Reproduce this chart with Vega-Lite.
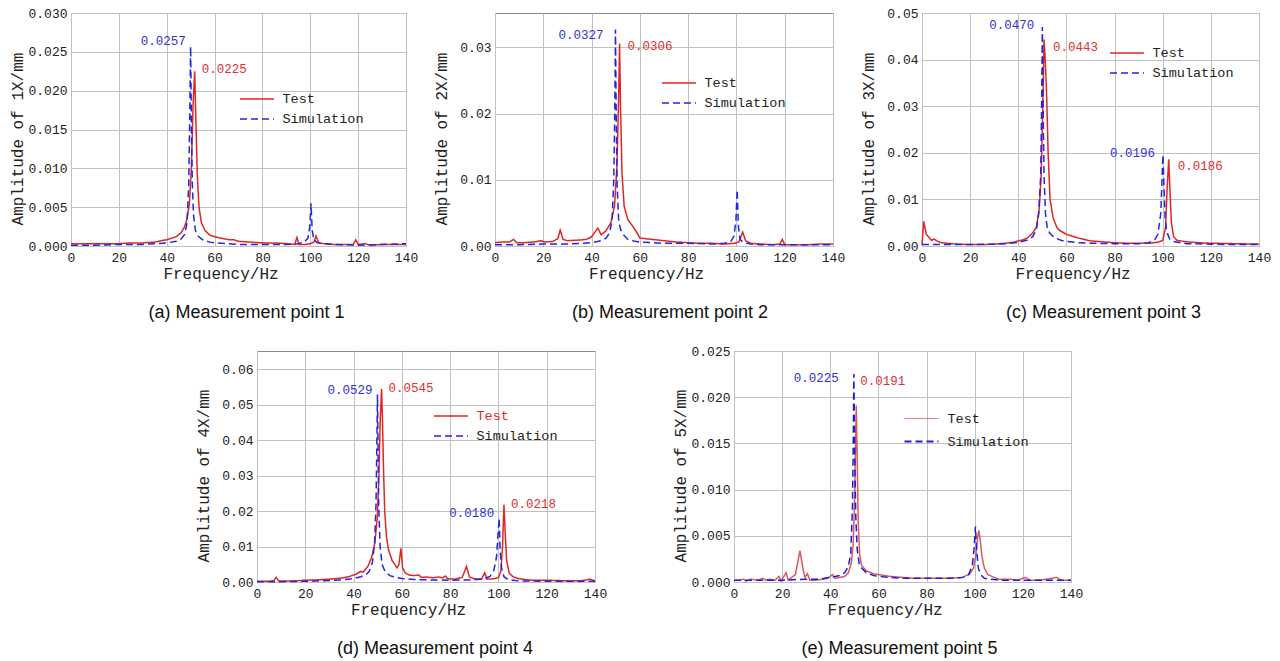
{
  "$schema": "https://vega.github.io/schema/vega-lite/v6.json",
  "padding": {"left": 8, "top": 6, "right": 5, "bottom": 5},
  "background": "white",
  "bounds": "flush",
  "spacing": 338,
  "config": {
    "font": "Liberation Mono",
    "view": {"stroke": "#8a8a8a", "strokeWidth": 1},
    "axis": {"labelFont": "Liberation Mono", "labelFontSize": 13, "labelColor": "#222222", "titleFont": "Liberation Mono", "titleFontSize": 16, "titleFontWeight": "normal", "titleColor": "#222222", "gridColor": "#c0c0c0", "gridOpacity": 1, "gridWidth": 1, "domain": false, "ticks": false, "labelPadding": 4, "labelFlush": false, "labelOverlap": false},
    "axisX": {"labelPadding": 5, "titlePadding": 1},
    "axisY": {"titleX": -54, "titleBaseline": "middle", "titleAngle": 270, "labelOverlap": false},
    "legend": {"orient": "none", "padding": 0, "symbolType": "M-2,0H2", "symbolSize": 289, "symbolStrokeWidth": 1.5, "labelOffset": 16, "labelFont": "Liberation Mono", "labelFontSize": 13.5, "labelColor": "#222222", "rowPadding": 4},
    "title": {"font": "Liberation Sans", "fontSize": 18, "fontWeight": "normal", "color": "#111111", "orient": "bottom", "anchor": "middle", "offset": 23},
    "line": {"strokeWidth": 1.5},
    "text": {"font": "Liberation Mono", "fontSize": 12.5}
  },
  "resolve": {"scale": {"color": "independent", "strokeDash": "independent", "strokeWidth": "independent"}},
  "datasets": {
    "a": [
      {"f":0,"v":0.0003,"s":"Test"},{"f":5,"v":0.0003,"s":"Test"},{"f":10,"v":0.0003,"s":"Test"},{"f":15,"v":0.0003,"s":"Test"},{"f":20,"v":0.0003,"s":"Test"},{"f":25,"v":0.0004,"s":"Test"},{"f":30,"v":0.0004,"s":"Test"},{"f":35,"v":0.0005,"s":"Test"},{"f":38,"v":0.0007,"s":"Test"},{"f":40,"v":0.0008,"s":"Test"},{"f":42,"v":0.001,"s":"Test"},{"f":44,"v":0.0012,"s":"Test"},{"f":46,"v":0.0017,"s":"Test"},{"f":47.5,"v":0.0025,"s":"Test"},{"f":48.5,"v":0.0035,"s":"Test"},{"f":49.5,"v":0.0055,"s":"Test"},{"f":50.3,"v":0.01,"s":"Test"},{"f":51,"v":0.018,"s":"Test"},{"f":51.7,"v":0.0225,"s":"Test"},{"f":52.2,"v":0.016,"s":"Test"},{"f":52.8,"v":0.009,"s":"Test"},{"f":53.5,"v":0.005,"s":"Test"},{"f":54.5,"v":0.003,"s":"Test"},{"f":56,"v":0.002,"s":"Test"},{"f":58,"v":0.0014,"s":"Test"},{"f":60,"v":0.0012,"s":"Test"},{"f":63,"v":0.001,"s":"Test"},{"f":66,"v":0.0008,"s":"Test"},{"f":68,"v":0.0008,"s":"Test"},{"f":70,"v":0.0006,"s":"Test"},{"f":75,"v":0.0005,"s":"Test"},{"f":80,"v":0.0004,"s":"Test"},{"f":85,"v":0.0004,"s":"Test"},{"f":90,"v":0.0003,"s":"Test"},{"f":93.5,"v":0.0002,"s":"Test"},{"f":94.4,"v":0.0011,"s":"Test"},{"f":95.3,"v":0.0002,"s":"Test"},{"f":98,"v":0.0002,"s":"Test"},{"f":100,"v":0.0003,"s":"Test"},{"f":101.5,"v":0.0005,"s":"Test"},{"f":102.4,"v":0.0013,"s":"Test"},{"f":103.5,"v":0.0004,"s":"Test"},{"f":106,"v":0.0003,"s":"Test"},{"f":110,"v":0.0002,"s":"Test"},{"f":115,"v":0.0002,"s":"Test"},{"f":118,"v":0.0002,"s":"Test"},{"f":119,"v":0.0008,"s":"Test"},{"f":120,"v":0.0002,"s":"Test"},{"f":123,"v":0.0003,"s":"Test"},{"f":125,"v":0.0001,"s":"Test"},{"f":130,"v":0.0002,"s":"Test"},{"f":135,"v":0.0002,"s":"Test"},{"f":140,"v":0.0002,"s":"Test"},
      {"f":0,"v":0.0001,"s":"Simulation"},{"f":10,"v":0.0001,"s":"Simulation"},{"f":20,"v":0.0002,"s":"Simulation"},{"f":30,"v":0.0002,"s":"Simulation"},{"f":35,"v":0.0003,"s":"Simulation"},{"f":40,"v":0.0004,"s":"Simulation"},{"f":44,"v":0.0006,"s":"Simulation"},{"f":46,"v":0.0009,"s":"Simulation"},{"f":47.5,"v":0.0015,"s":"Simulation"},{"f":48.5,"v":0.003,"s":"Simulation"},{"f":49.2,"v":0.008,"s":"Simulation"},{"f":49.6,"v":0.016,"s":"Simulation"},{"f":50,"v":0.0257,"s":"Simulation"},{"f":50.3,"v":0.016,"s":"Simulation"},{"f":50.7,"v":0.008,"s":"Simulation"},{"f":51.2,"v":0.004,"s":"Simulation"},{"f":52,"v":0.002,"s":"Simulation"},{"f":53,"v":0.0013,"s":"Simulation"},{"f":55,"v":0.0008,"s":"Simulation"},{"f":58,"v":0.0005,"s":"Simulation"},{"f":60,"v":0.0004,"s":"Simulation"},{"f":65,"v":0.0003,"s":"Simulation"},{"f":70,"v":0.0002,"s":"Simulation"},{"f":80,"v":0.0002,"s":"Simulation"},{"f":90,"v":0.0002,"s":"Simulation"},{"f":95,"v":0.0003,"s":"Simulation"},{"f":97.5,"v":0.0005,"s":"Simulation"},{"f":99,"v":0.001,"s":"Simulation"},{"f":99.8,"v":0.0025,"s":"Simulation"},{"f":100.3,"v":0.0055,"s":"Simulation"},{"f":100.8,"v":0.002,"s":"Simulation"},{"f":101.5,"v":0.0008,"s":"Simulation"},{"f":103,"v":0.0004,"s":"Simulation"},{"f":106,"v":0.0003,"s":"Simulation"},{"f":110,"v":0.0002,"s":"Simulation"},{"f":120,"v":0.0001,"s":"Simulation"},{"f":130,"v":0.0002,"s":"Simulation"},{"f":140,"v":0.0003,"s":"Simulation"}
    ],
    "b": [
      {"f":0,"v":0.0005,"s":"Test"},{"f":3,"v":0.0006,"s":"Test"},{"f":6,"v":0.0006,"s":"Test"},{"f":7.7,"v":0.001,"s":"Test"},{"f":9,"v":0.0005,"s":"Test"},{"f":12,"v":0.0005,"s":"Test"},{"f":16,"v":0.0006,"s":"Test"},{"f":19,"v":0.0008,"s":"Test"},{"f":21,"v":0.0006,"s":"Test"},{"f":24,"v":0.0007,"s":"Test"},{"f":26,"v":0.0011,"s":"Test"},{"f":27,"v":0.0024,"s":"Test"},{"f":28.2,"v":0.001,"s":"Test"},{"f":30,"v":0.0008,"s":"Test"},{"f":35,"v":0.0009,"s":"Test"},{"f":38,"v":0.001,"s":"Test"},{"f":40,"v":0.0014,"s":"Test"},{"f":42.6,"v":0.0027,"s":"Test"},{"f":44,"v":0.0017,"s":"Test"},{"f":46,"v":0.0023,"s":"Test"},{"f":48,"v":0.0035,"s":"Test"},{"f":49.5,"v":0.006,"s":"Test"},{"f":50.5,"v":0.012,"s":"Test"},{"f":51.2,"v":0.022,"s":"Test"},{"f":51.6,"v":0.0306,"s":"Test"},{"f":52,"v":0.021,"s":"Test"},{"f":52.6,"v":0.011,"s":"Test"},{"f":53.5,"v":0.006,"s":"Test"},{"f":55,"v":0.004,"s":"Test"},{"f":57,"v":0.003,"s":"Test"},{"f":58.5,"v":0.0022,"s":"Test"},{"f":60,"v":0.0012,"s":"Test"},{"f":65,"v":0.001,"s":"Test"},{"f":70,"v":0.0008,"s":"Test"},{"f":75,"v":0.0006,"s":"Test"},{"f":80,"v":0.0005,"s":"Test"},{"f":85,"v":0.0004,"s":"Test"},{"f":90,"v":0.0004,"s":"Test"},{"f":95,"v":0.0003,"s":"Test"},{"f":99,"v":0.0004,"s":"Test"},{"f":101,"v":0.0006,"s":"Test"},{"f":102.6,"v":0.0021,"s":"Test"},{"f":103.8,"v":0.0008,"s":"Test"},{"f":106,"v":0.0004,"s":"Test"},{"f":110,"v":0.0003,"s":"Test"},{"f":115,"v":0.0002,"s":"Test"},{"f":118,"v":0.0003,"s":"Test"},{"f":119,"v":0.001,"s":"Test"},{"f":120,"v":0.0002,"s":"Test"},{"f":125,"v":0.0002,"s":"Test"},{"f":130,"v":0.0002,"s":"Test"},{"f":135,"v":0.0003,"s":"Test"},{"f":140,"v":0.0003,"s":"Test"},
      {"f":0,"v":0.0002,"s":"Simulation"},{"f":10,"v":0.0002,"s":"Simulation"},{"f":20,"v":0.0003,"s":"Simulation"},{"f":30,"v":0.0003,"s":"Simulation"},{"f":35,"v":0.0004,"s":"Simulation"},{"f":40,"v":0.0005,"s":"Simulation"},{"f":44,"v":0.0008,"s":"Simulation"},{"f":46,"v":0.0012,"s":"Simulation"},{"f":47.5,"v":0.002,"s":"Simulation"},{"f":48.5,"v":0.004,"s":"Simulation"},{"f":49.2,"v":0.01,"s":"Simulation"},{"f":49.6,"v":0.02,"s":"Simulation"},{"f":49.9,"v":0.0327,"s":"Simulation"},{"f":50.2,"v":0.02,"s":"Simulation"},{"f":50.6,"v":0.009,"s":"Simulation"},{"f":51.2,"v":0.004,"s":"Simulation"},{"f":52,"v":0.0025,"s":"Simulation"},{"f":53,"v":0.0018,"s":"Simulation"},{"f":55,"v":0.001,"s":"Simulation"},{"f":58,"v":0.0007,"s":"Simulation"},{"f":60,"v":0.0006,"s":"Simulation"},{"f":65,"v":0.0005,"s":"Simulation"},{"f":70,"v":0.0004,"s":"Simulation"},{"f":80,"v":0.0004,"s":"Simulation"},{"f":90,"v":0.0003,"s":"Simulation"},{"f":95,"v":0.0004,"s":"Simulation"},{"f":97.5,"v":0.0006,"s":"Simulation"},{"f":99,"v":0.0015,"s":"Simulation"},{"f":99.8,"v":0.004,"s":"Simulation"},{"f":100.3,"v":0.0085,"s":"Simulation"},{"f":100.8,"v":0.003,"s":"Simulation"},{"f":101.5,"v":0.001,"s":"Simulation"},{"f":103,"v":0.0005,"s":"Simulation"},{"f":106,"v":0.0003,"s":"Simulation"},{"f":110,"v":0.0002,"s":"Simulation"},{"f":120,"v":0.0002,"s":"Simulation"},{"f":130,"v":0.0002,"s":"Simulation"},{"f":140,"v":0.0002,"s":"Simulation"}
    ],
    "c": [
      {"f":0,"v":0.0002,"s":"Test"},{"f":0.7,"v":0.0053,"s":"Test"},{"f":1.8,"v":0.0025,"s":"Test"},{"f":3,"v":0.0018,"s":"Test"},{"f":4,"v":0.0012,"s":"Test"},{"f":5,"v":0.0015,"s":"Test"},{"f":6.5,"v":0.001,"s":"Test"},{"f":8,"v":0.0007,"s":"Test"},{"f":10,"v":0.0006,"s":"Test"},{"f":12,"v":0.0005,"s":"Test"},{"f":15,"v":0.0004,"s":"Test"},{"f":20,"v":0.0003,"s":"Test"},{"f":25,"v":0.0003,"s":"Test"},{"f":30,"v":0.0004,"s":"Test"},{"f":35,"v":0.0006,"s":"Test"},{"f":38,"v":0.0008,"s":"Test"},{"f":40,"v":0.0011,"s":"Test"},{"f":42,"v":0.0013,"s":"Test"},{"f":44,"v":0.0018,"s":"Test"},{"f":46,"v":0.0028,"s":"Test"},{"f":47.5,"v":0.004,"s":"Test"},{"f":48.7,"v":0.008,"s":"Test"},{"f":49.5,"v":0.015,"s":"Test"},{"f":50.2,"v":0.03,"s":"Test"},{"f":50.7,"v":0.0443,"s":"Test"},{"f":51.2,"v":0.04,"s":"Test"},{"f":51.8,"v":0.032,"s":"Test"},{"f":52.4,"v":0.02,"s":"Test"},{"f":53.2,"v":0.01,"s":"Test"},{"f":54.5,"v":0.006,"s":"Test"},{"f":56,"v":0.004,"s":"Test"},{"f":57,"v":0.0034,"s":"Test"},{"f":60,"v":0.0025,"s":"Test"},{"f":65,"v":0.0017,"s":"Test"},{"f":70,"v":0.0011,"s":"Test"},{"f":75,"v":0.0009,"s":"Test"},{"f":80,"v":0.0007,"s":"Test"},{"f":85,"v":0.0006,"s":"Test"},{"f":90,"v":0.0006,"s":"Test"},{"f":95,"v":0.0006,"s":"Test"},{"f":98,"v":0.0008,"s":"Test"},{"f":100,"v":0.0012,"s":"Test"},{"f":101.2,"v":0.004,"s":"Test"},{"f":101.8,"v":0.012,"s":"Test"},{"f":102.5,"v":0.0186,"s":"Test"},{"f":103,"v":0.012,"s":"Test"},{"f":103.6,"v":0.005,"s":"Test"},{"f":104.5,"v":0.002,"s":"Test"},{"f":106,"v":0.0012,"s":"Test"},{"f":110,"v":0.0009,"s":"Test"},{"f":115,"v":0.0007,"s":"Test"},{"f":120,"v":0.0006,"s":"Test"},{"f":130,"v":0.0005,"s":"Test"},{"f":140,"v":0.0004,"s":"Test"},
      {"f":0,"v":0.0003,"s":"Simulation"},{"f":10,"v":0.0003,"s":"Simulation"},{"f":20,"v":0.0003,"s":"Simulation"},{"f":30,"v":0.0004,"s":"Simulation"},{"f":35,"v":0.0005,"s":"Simulation"},{"f":40,"v":0.0008,"s":"Simulation"},{"f":44,"v":0.0013,"s":"Simulation"},{"f":46,"v":0.002,"s":"Simulation"},{"f":47.5,"v":0.0035,"s":"Simulation"},{"f":48.5,"v":0.007,"s":"Simulation"},{"f":49.3,"v":0.015,"s":"Simulation"},{"f":49.7,"v":0.03,"s":"Simulation"},{"f":50,"v":0.047,"s":"Simulation"},{"f":50.3,"v":0.03,"s":"Simulation"},{"f":50.7,"v":0.015,"s":"Simulation"},{"f":51.3,"v":0.007,"s":"Simulation"},{"f":52,"v":0.004,"s":"Simulation"},{"f":53,"v":0.0028,"s":"Simulation"},{"f":55,"v":0.0018,"s":"Simulation"},{"f":58,"v":0.0012,"s":"Simulation"},{"f":60,"v":0.001,"s":"Simulation"},{"f":65,"v":0.0007,"s":"Simulation"},{"f":70,"v":0.0006,"s":"Simulation"},{"f":80,"v":0.0005,"s":"Simulation"},{"f":90,"v":0.0005,"s":"Simulation"},{"f":94,"v":0.0007,"s":"Simulation"},{"f":96.5,"v":0.0012,"s":"Simulation"},{"f":98,"v":0.0025,"s":"Simulation"},{"f":99.2,"v":0.007,"s":"Simulation"},{"f":99.7,"v":0.014,"s":"Simulation"},{"f":100.1,"v":0.0196,"s":"Simulation"},{"f":100.5,"v":0.013,"s":"Simulation"},{"f":101,"v":0.006,"s":"Simulation"},{"f":101.7,"v":0.003,"s":"Simulation"},{"f":103,"v":0.0014,"s":"Simulation"},{"f":105,"v":0.0009,"s":"Simulation"},{"f":110,"v":0.0005,"s":"Simulation"},{"f":120,"v":0.0004,"s":"Simulation"},{"f":130,"v":0.0003,"s":"Simulation"},{"f":140,"v":0.0003,"s":"Simulation"}
    ],
    "d": [
      {"f":0,"v":0.0002,"s":"Test"},{"f":5,"v":0.0002,"s":"Test"},{"f":7,"v":0.0004,"s":"Test"},{"f":7.9,"v":0.0013,"s":"Test"},{"f":9,"v":0.0003,"s":"Test"},{"f":12,"v":0.0003,"s":"Test"},{"f":15,"v":0.0003,"s":"Test"},{"f":20,"v":0.0005,"s":"Test"},{"f":25,"v":0.0006,"s":"Test"},{"f":30,"v":0.0008,"s":"Test"},{"f":35,"v":0.0011,"s":"Test"},{"f":38,"v":0.0015,"s":"Test"},{"f":41,"v":0.0022,"s":"Test"},{"f":43,"v":0.003,"s":"Test"},{"f":44,"v":0.0028,"s":"Test"},{"f":46,"v":0.0045,"s":"Test"},{"f":47.5,"v":0.007,"s":"Test"},{"f":48.8,"v":0.011,"s":"Test"},{"f":49.8,"v":0.018,"s":"Test"},{"f":50.5,"v":0.03,"s":"Test"},{"f":51,"v":0.045,"s":"Test"},{"f":51.6,"v":0.0545,"s":"Test"},{"f":52,"v":0.045,"s":"Test"},{"f":52.4,"v":0.032,"s":"Test"},{"f":52.9,"v":0.02,"s":"Test"},{"f":53.6,"v":0.013,"s":"Test"},{"f":54.5,"v":0.009,"s":"Test"},{"f":56,"v":0.006,"s":"Test"},{"f":58,"v":0.004,"s":"Test"},{"f":58.8,"v":0.005,"s":"Test"},{"f":59.6,"v":0.0095,"s":"Test"},{"f":60.3,"v":0.004,"s":"Test"},{"f":61.5,"v":0.0025,"s":"Test"},{"f":63,"v":0.002,"s":"Test"},{"f":65,"v":0.0018,"s":"Test"},{"f":67,"v":0.002,"s":"Test"},{"f":68,"v":0.0013,"s":"Test"},{"f":70,"v":0.0014,"s":"Test"},{"f":73,"v":0.0012,"s":"Test"},{"f":75,"v":0.0014,"s":"Test"},{"f":77,"v":0.0012,"s":"Test"},{"f":78,"v":0.0017,"s":"Test"},{"f":79,"v":0.0009,"s":"Test"},{"f":82,"v":0.0008,"s":"Test"},{"f":85,"v":0.0013,"s":"Test"},{"f":86.8,"v":0.0044,"s":"Test"},{"f":88,"v":0.0014,"s":"Test"},{"f":90,"v":0.0009,"s":"Test"},{"f":93,"v":0.0008,"s":"Test"},{"f":94.3,"v":0.0026,"s":"Test"},{"f":95.3,"v":0.0008,"s":"Test"},{"f":98,"v":0.0009,"s":"Test"},{"f":100,"v":0.0012,"s":"Test"},{"f":101,"v":0.003,"s":"Test"},{"f":101.7,"v":0.01,"s":"Test"},{"f":102.3,"v":0.0218,"s":"Test"},{"f":102.8,"v":0.014,"s":"Test"},{"f":103.4,"v":0.006,"s":"Test"},{"f":104.5,"v":0.0025,"s":"Test"},{"f":106,"v":0.0015,"s":"Test"},{"f":108,"v":0.001,"s":"Test"},{"f":110,"v":0.0008,"s":"Test"},{"f":112,"v":0.0006,"s":"Test"},{"f":115,"v":0.0005,"s":"Test"},{"f":120,"v":0.0005,"s":"Test"},{"f":125,"v":0.0004,"s":"Test"},{"f":130,"v":0.0003,"s":"Test"},{"f":135,"v":0.0004,"s":"Test"},{"f":138,"v":0.0008,"s":"Test"},{"f":140,"v":0.0003,"s":"Test"},
      {"f":0,"v":0.0001,"s":"Simulation"},{"f":10,"v":0.0001,"s":"Simulation"},{"f":20,"v":0.0002,"s":"Simulation"},{"f":30,"v":0.0004,"s":"Simulation"},{"f":35,"v":0.0006,"s":"Simulation"},{"f":40,"v":0.001,"s":"Simulation"},{"f":43,"v":0.0015,"s":"Simulation"},{"f":45,"v":0.002,"s":"Simulation"},{"f":46.5,"v":0.003,"s":"Simulation"},{"f":47.8,"v":0.0055,"s":"Simulation"},{"f":48.7,"v":0.011,"s":"Simulation"},{"f":49.3,"v":0.022,"s":"Simulation"},{"f":49.9,"v":0.0529,"s":"Simulation"},{"f":50.4,"v":0.022,"s":"Simulation"},{"f":51,"v":0.01,"s":"Simulation"},{"f":51.8,"v":0.005,"s":"Simulation"},{"f":53,"v":0.003,"s":"Simulation"},{"f":55,"v":0.0018,"s":"Simulation"},{"f":58,"v":0.0012,"s":"Simulation"},{"f":60,"v":0.001,"s":"Simulation"},{"f":65,"v":0.0007,"s":"Simulation"},{"f":70,"v":0.0006,"s":"Simulation"},{"f":80,"v":0.0005,"s":"Simulation"},{"f":90,"v":0.0006,"s":"Simulation"},{"f":94,"v":0.0009,"s":"Simulation"},{"f":96.5,"v":0.0016,"s":"Simulation"},{"f":98,"v":0.003,"s":"Simulation"},{"f":99.2,"v":0.007,"s":"Simulation"},{"f":99.8,"v":0.013,"s":"Simulation"},{"f":100.3,"v":0.018,"s":"Simulation"},{"f":100.7,"v":0.009,"s":"Simulation"},{"f":101.3,"v":0.004,"s":"Simulation"},{"f":102.3,"v":0.0015,"s":"Simulation"},{"f":104,"v":0.0007,"s":"Simulation"},{"f":107,"v":0.0004,"s":"Simulation"},{"f":110,"v":0.0003,"s":"Simulation"},{"f":120,"v":0.0002,"s":"Simulation"},{"f":130,"v":0.0002,"s":"Simulation"},{"f":140,"v":0.0002,"s":"Simulation"}
    ],
    "e": [
      {"f":0,"v":0.0002,"s":"Test"},{"f":2,"v":0.0002,"s":"Test"},{"f":4,"v":0.0003,"s":"Test"},{"f":5,"v":0.0001,"s":"Test"},{"f":7,"v":0.0003,"s":"Test"},{"f":10,"v":0.0002,"s":"Test"},{"f":12,"v":0.0004,"s":"Test"},{"f":13,"v":0.0002,"s":"Test"},{"f":15,"v":0.0003,"s":"Test"},{"f":17,"v":0.0002,"s":"Test"},{"f":18.7,"v":0.0006,"s":"Test"},{"f":19.5,"v":0.0001,"s":"Test"},{"f":21.7,"v":0.001,"s":"Test"},{"f":22.5,"v":0.0002,"s":"Test"},{"f":24,"v":0.0005,"s":"Test"},{"f":25.5,"v":0.0008,"s":"Test"},{"f":27.4,"v":0.0034,"s":"Test"},{"f":28.8,"v":0.0012,"s":"Test"},{"f":29.5,"v":0.0005,"s":"Test"},{"f":30.5,"v":0.0009,"s":"Test"},{"f":31.5,"v":0.0002,"s":"Test"},{"f":34,"v":0.0002,"s":"Test"},{"f":37,"v":0.0003,"s":"Test"},{"f":39,"v":0.0004,"s":"Test"},{"f":40.9,"v":0.0008,"s":"Test"},{"f":42,"v":0.0004,"s":"Test"},{"f":44,"v":0.0005,"s":"Test"},{"f":46,"v":0.0006,"s":"Test"},{"f":47.5,"v":0.001,"s":"Test"},{"f":48.7,"v":0.002,"s":"Test"},{"f":49.5,"v":0.004,"s":"Test"},{"f":50.1,"v":0.009,"s":"Test"},{"f":50.5,"v":0.015,"s":"Test"},{"f":50.8,"v":0.0191,"s":"Test"},{"f":51.2,"v":0.013,"s":"Test"},{"f":51.6,"v":0.0065,"s":"Test"},{"f":52.2,"v":0.003,"s":"Test"},{"f":53,"v":0.0018,"s":"Test"},{"f":55,"v":0.0012,"s":"Test"},{"f":58,"v":0.0009,"s":"Test"},{"f":60,"v":0.0008,"s":"Test"},{"f":65,"v":0.0006,"s":"Test"},{"f":70,"v":0.0005,"s":"Test"},{"f":75,"v":0.0004,"s":"Test"},{"f":80,"v":0.0004,"s":"Test"},{"f":85,"v":0.0004,"s":"Test"},{"f":90,"v":0.0004,"s":"Test"},{"f":95,"v":0.0005,"s":"Test"},{"f":98,"v":0.0009,"s":"Test"},{"f":99.5,"v":0.0015,"s":"Test"},{"f":100.5,"v":0.003,"s":"Test"},{"f":101.2,"v":0.0048,"s":"Test"},{"f":101.7,"v":0.0056,"s":"Test"},{"f":102.3,"v":0.0045,"s":"Test"},{"f":103,"v":0.0028,"s":"Test"},{"f":104,"v":0.0015,"s":"Test"},{"f":105.5,"v":0.0008,"s":"Test"},{"f":108,"v":0.0005,"s":"Test"},{"f":110,"v":0.0003,"s":"Test"},{"f":115,"v":0.0003,"s":"Test"},{"f":118,"v":0.0002,"s":"Test"},{"f":121,"v":0.0005,"s":"Test"},{"f":123,"v":0.0002,"s":"Test"},{"f":126,"v":0.0002,"s":"Test"},{"f":130,"v":0.0003,"s":"Test"},{"f":134,"v":0.0005,"s":"Test"},{"f":136,"v":0.0002,"s":"Test"},{"f":140,"v":0.0002,"s":"Test"},
      {"f":0,"v":0.0002,"s":"Simulation"},{"f":10,"v":0.0002,"s":"Simulation"},{"f":20,"v":0.0002,"s":"Simulation"},{"f":30,"v":0.0003,"s":"Simulation"},{"f":35,"v":0.0003,"s":"Simulation"},{"f":40,"v":0.0005,"s":"Simulation"},{"f":44,"v":0.0007,"s":"Simulation"},{"f":46,"v":0.001,"s":"Simulation"},{"f":47.5,"v":0.0017,"s":"Simulation"},{"f":48.5,"v":0.003,"s":"Simulation"},{"f":49.2,"v":0.008,"s":"Simulation"},{"f":49.5,"v":0.014,"s":"Simulation"},{"f":49.8,"v":0.0225,"s":"Simulation"},{"f":50.2,"v":0.013,"s":"Simulation"},{"f":50.6,"v":0.007,"s":"Simulation"},{"f":51.2,"v":0.0035,"s":"Simulation"},{"f":52,"v":0.002,"s":"Simulation"},{"f":53,"v":0.0015,"s":"Simulation"},{"f":55,"v":0.001,"s":"Simulation"},{"f":58,"v":0.0007,"s":"Simulation"},{"f":60,"v":0.0006,"s":"Simulation"},{"f":65,"v":0.0005,"s":"Simulation"},{"f":70,"v":0.0004,"s":"Simulation"},{"f":80,"v":0.0004,"s":"Simulation"},{"f":90,"v":0.0004,"s":"Simulation"},{"f":95,"v":0.0005,"s":"Simulation"},{"f":97.5,"v":0.0008,"s":"Simulation"},{"f":99,"v":0.0018,"s":"Simulation"},{"f":99.7,"v":0.0035,"s":"Simulation"},{"f":100.3,"v":0.006,"s":"Simulation"},{"f":100.8,"v":0.0035,"s":"Simulation"},{"f":101.5,"v":0.0015,"s":"Simulation"},{"f":102.5,"v":0.0008,"s":"Simulation"},{"f":104,"v":0.0004,"s":"Simulation"},{"f":107,"v":0.0003,"s":"Simulation"},{"f":110,"v":0.0002,"s":"Simulation"},{"f":120,"v":0.0002,"s":"Simulation"},{"f":130,"v":0.0002,"s":"Simulation"},{"f":140,"v":0.0002,"s":"Simulation"}
    ],
    "peaks": [
      {"p":"a","f":50,"v":0.0257,"s":"Simulation","label":"0.0257"},
      {"p":"a","f":51.7,"v":0.0225,"s":"Test","label":"0.0225"},
      {"p":"b","f":49.9,"v":0.0327,"s":"Simulation","label":"0.0327"},
      {"p":"b","f":51.6,"v":0.0306,"s":"Test","label":"0.0306"},
      {"p":"c","f":50,"v":0.047,"s":"Simulation","label":"0.0470"},
      {"p":"c","f":50.7,"v":0.0443,"s":"Test","label":"0.0443"},
      {"p":"c","f":100.1,"v":0.0196,"s":"Simulation","label":"0.0196"},
      {"p":"c","f":102.5,"v":0.0186,"s":"Test","label":"0.0186"},
      {"p":"d","f":49.9,"v":0.0529,"s":"Simulation","label":"0.0529"},
      {"p":"d","f":51.6,"v":0.0545,"s":"Test","label":"0.0545"},
      {"p":"d","f":100.3,"v":0.018,"s":"Simulation","label":"0.0180"},
      {"p":"d","f":102.3,"v":0.0218,"s":"Test","label":"0.0218"},
      {"p":"e","f":49.8,"v":0.0225,"s":"Simulation","label":"0.0225"},
      {"p":"e","f":50.8,"v":0.0191,"s":"Test","label":"0.0191"}
    ]
  },
  "vconcat": [
    {
      "bounds": "flush",
      "spacing": 89,
      "resolve": {"scale": {"color": "independent", "strokeDash": "independent", "strokeWidth": "independent"}},
      "hconcat": [
        {
          "width": 335, "height": 233,
          "title": {"text": "(a) Measurement point 1", "dx": 8},
          "layer": [
            {
              "data": {"name": "a"},
              "mark": {"type": "line"},
              "encoding": {
                "x": {"field": "f", "type": "quantitative", "scale": {"domain": [0, 140], "nice": false}, "axis": {"title": "Frequency/Hz", "titleX": 149.5, "values": [0, 20, 40, 60, 80, 100, 120, 140], "tickCount": 20}},
                "y": {"field": "v", "type": "quantitative", "scale": {"domain": [0, 0.03], "nice": false}, "axis": {"title": "Amplitude of 1X/mm", "values": [0, 0.005, 0.01, 0.015, 0.02, 0.025, 0.03], "tickCount": 20, "format": ".3f", "titleY": 125.5, "labelOverlap": false}},
                "color": {"field": "s", "type": "nominal", "scale": {"domain": ["Test", "Simulation"], "range": ["#e02525", "#2525e0"]}, "legend": {"title": null, "legendX": 176.5, "legendY": 76.5}},
                "strokeDash": {"field": "s", "type": "nominal", "scale": {"domain": ["Test", "Simulation"], "range": [[1, 0], [7, 4]]}, "legend": {"title": null, "legendX": 176.5, "legendY": 76.5}}
              }
            },
            {
              "data": {"name": "peaks"},
              "transform": [{"filter": "datum.p == 'a' && datum.s == 'Simulation'"}],
              "mark": {"type": "text", "align": "right", "dx": -5, "dy": -5, "color": "#3232d2"},
              "encoding": {"x": {"field": "f", "type": "quantitative"}, "y": {"field": "v", "type": "quantitative"}, "text": {"field": "label"}}
            },
            {
              "data": {"name": "peaks"},
              "transform": [{"filter": "datum.p == 'a' && datum.s == 'Test'"}],
              "mark": {"type": "text", "align": "left", "dx": 7, "dy": -2, "color": "#e03030"},
              "encoding": {"x": {"field": "f", "type": "quantitative"}, "y": {"field": "v", "type": "quantitative"}, "text": {"field": "label"}}
            }
          ]
        },
        {
          "width": 338, "height": 233,
          "title": {"text": "(b) Measurement point 2", "dx": 6},
          "layer": [
            {
              "data": {"name": "b"},
              "mark": {"type": "line"},
              "encoding": {
                "x": {"field": "f", "type": "quantitative", "scale": {"domain": [0, 140], "nice": false}, "axis": {"title": "Frequency/Hz", "titleX": 151, "values": [0, 20, 40, 60, 80, 100, 120, 140], "tickCount": 20}},
                "y": {"field": "v", "type": "quantitative", "scale": {"domain": [0, 0.0352], "nice": false}, "axis": {"title": "Amplitude of 2X/mm", "values": [0, 0.01, 0.02, 0.03], "tickCount": 20, "format": ".2f", "titleY": 125.5, "labelOverlap": false}},
                "color": {"field": "s", "type": "nominal", "scale": {"domain": ["Test", "Simulation"], "range": ["#e02525", "#2525e0"]}, "legend": {"title": null, "legendX": 174.5, "legendY": 60.5}},
                "strokeDash": {"field": "s", "type": "nominal", "scale": {"domain": ["Test", "Simulation"], "range": [[1, 0], [7, 4]]}, "legend": {"title": null, "legendX": 174.5, "legendY": 60.5}}
              }
            },
            {
              "data": {"name": "peaks"},
              "transform": [{"filter": "datum.p == 'b' && datum.s == 'Simulation'"}],
              "mark": {"type": "text", "align": "right", "dx": -12, "dy": 5, "color": "#3232d2"},
              "encoding": {"x": {"field": "f", "type": "quantitative"}, "y": {"field": "v", "type": "quantitative"}, "text": {"field": "label"}}
            },
            {
              "data": {"name": "peaks"},
              "transform": [{"filter": "datum.p == 'b' && datum.s == 'Test'"}],
              "mark": {"type": "text", "align": "left", "dx": 8, "dy": 3, "color": "#e03030"},
              "encoding": {"x": {"field": "f", "type": "quantitative"}, "y": {"field": "v", "type": "quantitative"}, "text": {"field": "label"}}
            }
          ]
        },
        {
          "width": 337, "height": 233,
          "title": {"text": "(c) Measurement point 3", "dx": 13},
          "layer": [
            {
              "data": {"name": "c"},
              "mark": {"type": "line"},
              "encoding": {
                "x": {"field": "f", "type": "quantitative", "scale": {"domain": [0, 140], "nice": false}, "axis": {"title": "Frequency/Hz", "titleX": 150.5, "values": [0, 20, 40, 60, 80, 100, 120, 140], "tickCount": 20}},
                "y": {"field": "v", "type": "quantitative", "scale": {"domain": [0, 0.05], "nice": false}, "axis": {"title": "Amplitude of 3X/mm", "values": [0, 0.01, 0.02, 0.03, 0.04, 0.05], "tickCount": 20, "format": ".2f", "titleY": 125.5, "labelOverlap": false}},
                "color": {"field": "s", "type": "nominal", "scale": {"domain": ["Test", "Simulation"], "range": ["#e02525", "#2525e0"]}, "legend": {"title": null, "legendX": 195.5, "legendY": 30.5}},
                "strokeDash": {"field": "s", "type": "nominal", "scale": {"domain": ["Test", "Simulation"], "range": [[1, 0], [7, 4]]}, "legend": {"title": null, "legendX": 195.5, "legendY": 30.5}}
              }
            },
            {
              "data": {"name": "peaks"},
              "transform": [{"filter": "datum.p == 'c' && datum.s == 'Simulation'"}],
              "mark": {"type": "text", "align": "right", "dx": -8, "dy": -2, "color": "#3232d2"},
              "encoding": {"x": {"field": "f", "type": "quantitative"}, "y": {"field": "v", "type": "quantitative"}, "text": {"field": "label"}}
            },
            {
              "data": {"name": "peaks"},
              "transform": [{"filter": "datum.p == 'c' && datum.s == 'Test'"}],
              "mark": {"type": "text", "align": "left", "dx": 9, "dy": 7, "color": "#e03030"},
              "encoding": {"x": {"field": "f", "type": "quantitative"}, "y": {"field": "v", "type": "quantitative"}, "text": {"field": "label"}}
            }
          ]
        }
      ]
    },
    {
      "bounds": "flush",
      "spacing": 139,
      "resolve": {"scale": {"color": "independent", "strokeDash": "independent", "strokeWidth": "independent"}},
      "hconcat": [
        {
          "width": 47, "height": 231,
          "data": {"values": [{"z": 0}]},
          "mark": {"type": "point", "opacity": 0},
          "view": {"stroke": null}
        },
        {
          "width": 338, "height": 231,
          "title": {"text": "(d) Measurement point 4", "dx": 9},
          "layer": [
            {
              "data": {"name": "d"},
              "mark": {"type": "line"},
              "encoding": {
                "x": {"field": "f", "type": "quantitative", "scale": {"domain": [0, 140], "nice": false}, "axis": {"title": "Frequency/Hz", "titleX": 151, "values": [0, 20, 40, 60, 80, 100, 120, 140], "tickCount": 20}},
                "y": {"field": "v", "type": "quantitative", "scale": {"domain": [0, 0.0652], "nice": false}, "axis": {"title": "Amplitude of 4X/mm", "values": [0, 0.01, 0.02, 0.03, 0.04, 0.05, 0.06], "tickCount": 20, "format": ".2f", "titleY": 124.5, "labelOverlap": false}},
                "color": {"field": "s", "type": "nominal", "scale": {"domain": ["Test", "Simulation"], "range": ["#e02525", "#2525e0"]}, "legend": {"title": null, "legendX": 184.5, "legendY": 55.5, "labelColor": {"expr": "datum.value === 'Test' ? '#e02525' : '#222222'"}}},
                "strokeDash": {"field": "s", "type": "nominal", "scale": {"domain": ["Test", "Simulation"], "range": [[1, 0], [7, 4]]}, "legend": {"title": null, "legendX": 184.5, "legendY": 55.5, "labelColor": {"expr": "datum.value === 'Test' ? '#e02525' : '#222222'"}}}
              }
            },
            {
              "data": {"name": "peaks"},
              "transform": [{"filter": "datum.p == 'd' && datum.s == 'Simulation'"}],
              "mark": {"type": "text", "align": "right", "dx": -5, "dy": -5, "color": "#3232d2"},
              "encoding": {"x": {"field": "f", "type": "quantitative"}, "y": {"field": "v", "type": "quantitative"}, "text": {"field": "label"}}
            },
            {
              "data": {"name": "peaks"},
              "transform": [{"filter": "datum.p == 'd' && datum.s == 'Test'"}],
              "mark": {"type": "text", "align": "left", "dx": 7, "dy": -1, "color": "#e03030"},
              "encoding": {"x": {"field": "f", "type": "quantitative"}, "y": {"field": "v", "type": "quantitative"}, "text": {"field": "label"}}
            }
          ]
        },
        {
          "width": 337, "height": 231,
          "title": {"text": "(e) Measurement point 5", "dx": -3},
          "layer": [
            {
              "data": {"name": "e"},
              "mark": {"type": "line"},
              "encoding": {
                "x": {"field": "f", "type": "quantitative", "scale": {"domain": [0, 140], "nice": false}, "axis": {"title": "Frequency/Hz", "titleX": 150.5, "values": [0, 20, 40, 60, 80, 100, 120, 140], "tickCount": 20}},
                "y": {"field": "v", "type": "quantitative", "scale": {"domain": [0, 0.025], "nice": false}, "axis": {"title": "Amplitude of 5X/mm", "values": [0, 0.005, 0.01, 0.015, 0.02, 0.025], "tickCount": 20, "format": ".3f", "titleY": 124.5, "labelOverlap": false}},
                "color": {"field": "s", "type": "nominal", "scale": {"domain": ["Test", "Simulation"], "range": ["#d85a5a", "#1c1cdc"]}, "legend": {"title": null, "legendX": 177.5, "legendY": 58.5, "rowPadding": 6}},
                "strokeDash": {"field": "s", "type": "nominal", "scale": {"domain": ["Test", "Simulation"], "range": [[1, 0], [7, 4]]}, "legend": {"title": null, "legendX": 177.5, "legendY": 58.5, "rowPadding": 6}},
                "strokeWidth": {"field": "s", "type": "ordinal", "scale": {"domain": ["Test", "Simulation"], "range": [1, 2.2]}, "legend": null}
              }
            },
            {
              "data": {"name": "peaks"},
              "transform": [{"filter": "datum.p == 'e' && datum.s == 'Simulation'"}],
              "mark": {"type": "text", "align": "right", "dx": -15, "dy": 4, "color": "#3232d2"},
              "encoding": {"x": {"field": "f", "type": "quantitative"}, "y": {"field": "v", "type": "quantitative"}, "text": {"field": "label"}}
            },
            {
              "data": {"name": "peaks"},
              "transform": [{"filter": "datum.p == 'e' && datum.s == 'Test'"}],
              "mark": {"type": "text", "align": "left", "dx": 4, "dy": -25, "color": "#e03030"},
              "encoding": {"x": {"field": "f", "type": "quantitative"}, "y": {"field": "v", "type": "quantitative"}, "text": {"field": "label"}}
            }
          ]
        }
      ]
    }
  ]
}
